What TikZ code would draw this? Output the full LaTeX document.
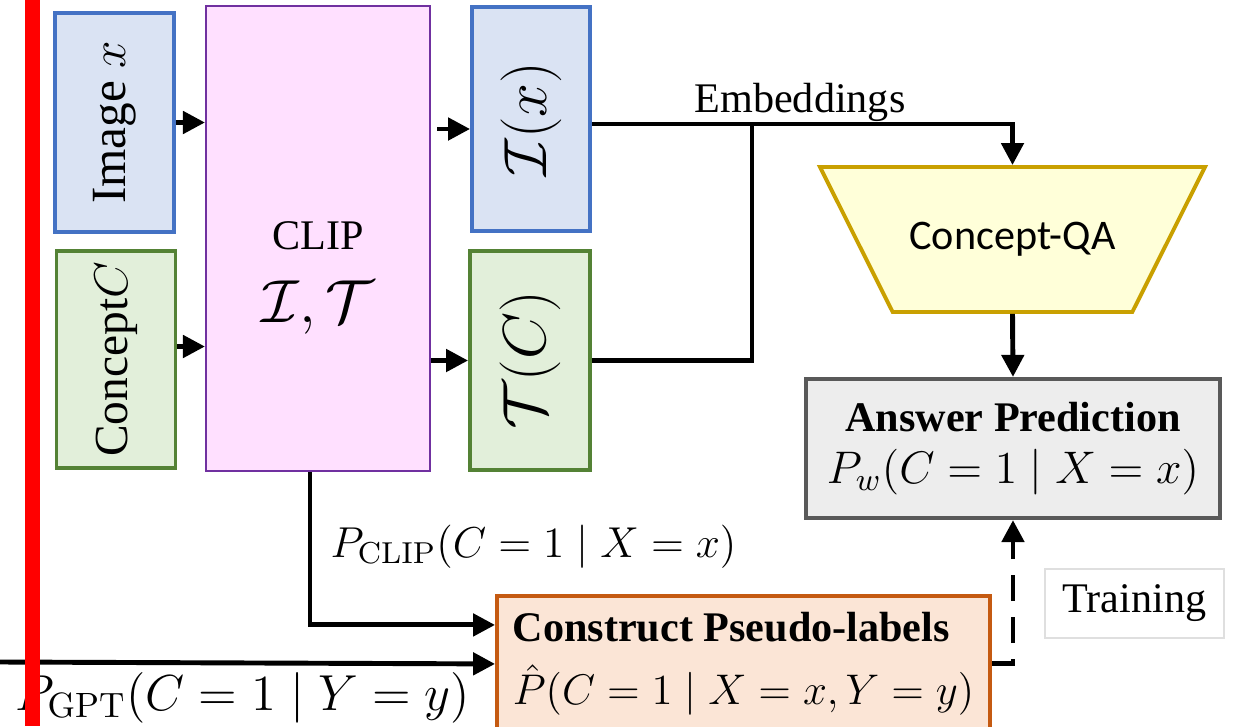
\RequirePackage{fix-cm}
\documentclass[tikz,border=0pt]{standalone}
\usepackage[no-math]{fontspec}
\setmainfont{Liberation Serif}
\newfontfamily\qafont{Carlito}
\usepackage{amsmath,amssymb}
\usetikzlibrary{arrows.meta, positioning, shapes.geometric, calc}
\definecolor{ccBlue}{HTML}{DAE3F3}
\definecolor{ccBlueD}{HTML}{4472C4}
\definecolor{ccGreen}{HTML}{E2EFDA}
\definecolor{ccGreenD}{HTML}{548235}
\definecolor{ccPink}{HTML}{FFE0FF}
\definecolor{ccPinkD}{HTML}{7030A0}
\definecolor{ccGold}{HTML}{FFFFD9}
\definecolor{ccGoldD}{HTML}{C9A000}
\definecolor{ccGray}{HTML}{EDEDED}
\definecolor{ccGrayD}{HTML}{595959}
\definecolor{ccOrange}{HTML}{FBE5D6}
\definecolor{ccOrangeD}{HTML}{C55A11}

\begin{document}
\begin{tikzpicture}[
  blk/.style={line width=1.1pt, inner sep=0pt, align=center},
  side/.style={blk, minimum width=1.19cm, minimum height=2.19cm},
  conn/.style={line width=1.4pt, -{Triangle[length=0.22cm,width=0.22cm]}},
  lbl/.style={inner sep=0pt},
]
  \fill[white] (0,0) rectangle (12.34,7.26);
  \useasboundingbox (0,0) rectangle (12.34,7.26);

  % encoder inputs and outputs
  \node[side, draw=ccBlueD, fill=ccBlue] (img) at (1.145,6.035)
    {\rotatebox{90}{\fontsize{14}{16}\selectfont Image $x$}};
  \node[side, draw=ccGreenD, fill=ccGreen, minimum height=2.17cm] (concept) at (1.16,3.665)
    {\rotatebox{90}{\fontsize{13.5}{16}\selectfont Concept$C$}};
  \node[blk, draw=ccPinkD, fill=ccPink, line width=0.6pt, minimum width=2.24cm, minimum height=4.65cm] (clip) at (3.18,4.875) {};
  \node[lbl, align=center] (cliptxt) at (3.18,4.48)
    {\fontsize{12}{14}\selectfont CLIP\\[9pt] \fontsize{17.3}{20}\selectfont $\mathcal{I},\mathcal{T}$};
  \node[side, draw=ccBlueD, fill=ccBlue, minimum width=1.18cm, minimum height=2.24cm] (ix) at (5.31,6.07)
    {\rotatebox{90}{\fontsize{17.3}{20}\selectfont $\mathcal{I}(x)$}};
  \node[side, draw=ccGreenD, fill=ccGreen, minimum width=1.20cm] (tc) at (5.30,3.655)
    {\rotatebox{90}{\fontsize{17.3}{20}\selectfont $\mathcal{T}(C)$}};

  % question answering side
  \node[trapezium, trapezium stretches body=true, shape border rotate=180, trapezium angle=38.4,
        minimum width=3.85cm, minimum height=1.45cm, draw=ccGoldD, fill=ccGold, line width=1.1pt,
        font=\qafont\fontsize{12}{14}\selectfont] (qa) at (10.125,4.865) {Concept-QA};
  \node[blk, draw=ccGrayD, fill=ccGray, line width=1.2pt, minimum width=4.14cm, minimum height=1.39cm] (ans) at (10.13,2.775)
    {\fontsize{12}{14}\selectfont\textbf{Answer Prediction}\\[3pt]
     \fontsize{13}{15}\selectfont $P_w(C=1\mid X=x)$};
  \node[blk, draw=ccOrangeD, fill=ccOrange, align=left, minimum width=4.93cm, minimum height=1.36cm, anchor=north] (pseudo) at (7.435,1.32)
    {\fontsize{12}{14}\selectfont\textbf{Construct Pseudo-labels}\\[6pt]
     \fontsize{12.2}{15}\selectfont $\hat{P}(C=1\mid X=x,Y=y)$};
  \node[blk, draw=gray!25, line width=0.4pt, minimum width=1.79cm, minimum height=0.69cm] (train) at (11.345,1.225)
    {\fontsize{12}{14}\selectfont Training};

  % labels
  \node[lbl, anchor=base, font=\fontsize{12}{14}\selectfont] (emb) at (8.0,6.14) {Embeddings};
  \node[lbl, anchor=base west] (pclip) at (3.30,1.69) {\fontsize{12.3}{15}\selectfont $P_{\mathrm{CLIP}}(C=1\mid X=x)$};
  \node[lbl, anchor=base west] (pgpt) at (0.15,0.16) {\fontsize{14.4}{16}\selectfont $P_{\mathrm{GPT}}(C=1\mid Y=y)$};

  % connectors
  \coordinate (join) at (7.52,6.02);
  \coordinate (gpt) at (0,0.64);
  \draw[conn] (img.east) -- (img.east -| clip.west);
  \draw[conn] ([yshift=0.13cm]concept.east) -- ([yshift=0.13cm]concept.east -| clip.west);
  \draw[conn] ($(clip.east |- ix.west)+(0.06,-0.1)$) -- ([yshift=-0.1cm]ix.west);
  \draw[conn] (clip.east |- tc.west) -- (tc.west);
  \draw[conn] ([yshift=-0.05cm]ix.east) -| (qa.north);
  \draw[line width=1.4pt] (tc.east) -| (join);
  \draw[conn] (qa.south) -- (ans.north);
  \draw[conn] ([xshift=-0.08cm]clip.south) |- ([yshift=0.39cm]pseudo.west);
  \draw[conn] (gpt) -- (pseudo.west);
  \draw[conn, dash pattern=on 0.26cm off 0.16cm] (pseudo.east) -| (ans.south);

  \fill[red] (0.25,0) rectangle (0.40,7.26);
\end{tikzpicture}
\end{document}
